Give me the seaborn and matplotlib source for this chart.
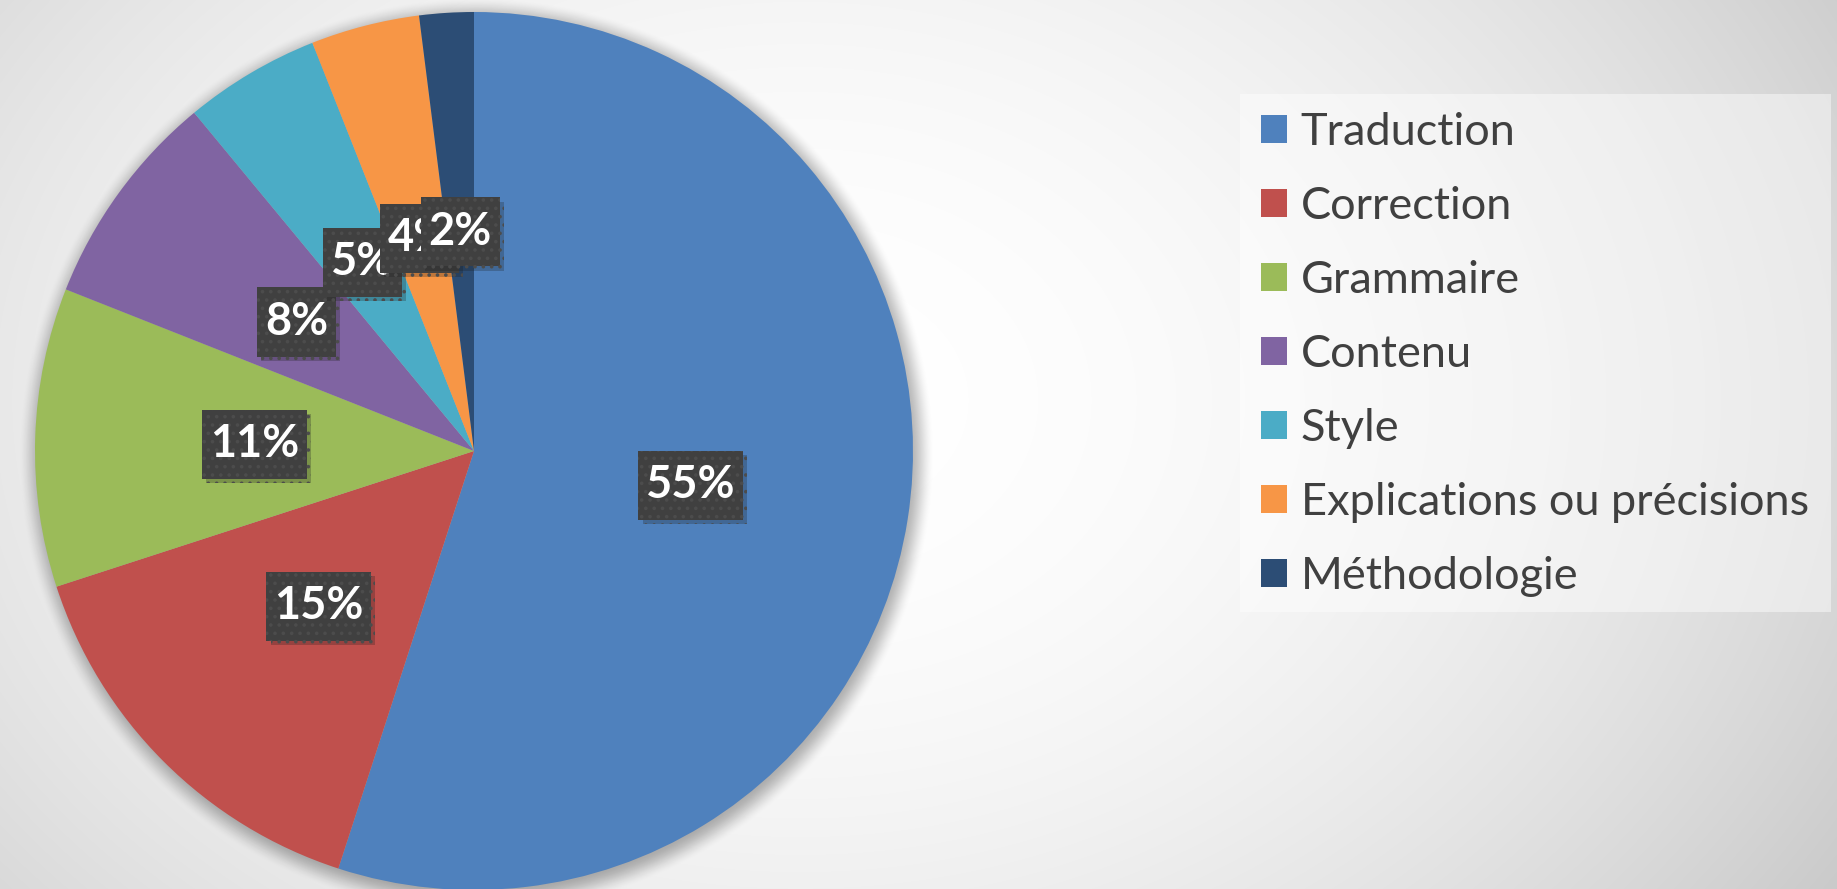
import numpy as np
import matplotlib
matplotlib.use("Agg")
import matplotlib.pyplot as plt
import seaborn as sns
from matplotlib import patheffects as pe
from matplotlib.patches import Rectangle
from matplotlib.path import Path

# -------------------
# Data
categories = ["Traduction", "Correction", "Grammaire", "Contenu", "Style",
              "Explications ou précisions", "Méthodologie"]
shares = [55, 15, 11, 8, 5, 4, 2]
colors = ["#4F81BD", "#C0504D", "#9BBB59", "#8064A2", "#4BACC6",
          "#F79646", "#2C4D75"]

# -------------------
# Style
sns.set_theme(style="white")
plt.rcParams["font.family"] = ["Lato", "DejaVu Sans"]
plt.rcParams["hatch.linewidth"] = 1.4

W, H = 1837, 889
fig = plt.figure(figsize=(W / 100, H / 100), dpi=100)


def label_box(x0, y0, width, height, mutation_size):
    # rectangle with less padding on the sides than on top/bottom
    px, py = 0.17 * mutation_size, 0.3 * mutation_size
    return Path([(x0 - px, y0 - py), (x0 + width + px, y0 - py),
                 (x0 + width + px, y0 + height + py), (x0 - px, y0 + height + py),
                 (x0 - px, y0 - py)], closed=True)


# -------------------
# Background: soft radial grey gradient
bg = fig.add_axes([0, 0, 1, 1], zorder=0)
yy, xx = np.mgrid[0:H, 0:W]
r2 = ((xx - 800) / 1200.0) ** 2 + ((yy - 400) / 900.0) ** 2
shade = np.clip(1 - 0.2 * r2, 0.74, 1)
bg.imshow(np.dstack([shade] * 3), extent=[0, W, H, 0], aspect="auto")
bg.axis("off")

# -------------------
# Pie
cx, cy, rad = 474, 451, 439
lim = 1.1
side = 2 * lim * rad
ax = fig.add_axes([(cx - lim * rad) / W, (H - cy - lim * rad) / H, side / W, side / H], zorder=1)
ax.patch.set_alpha(0)

# soft shadow under the pie
g = np.linspace(-lim, lim, 700)
gx, gy = np.meshgrid(g, g)
rr = np.hypot(gx - 0.006, gy + 0.01)
t = np.clip((1.045 - rr) / 0.06, 0, 1)
alpha = 0.3 * t * t * (3 - 2 * t)
shadow = np.zeros((700, 700, 4))
shadow[..., 3] = alpha
ax.imshow(shadow, extent=[-lim, lim, -lim, lim], origin="lower", zorder=0,
          interpolation="bilinear")

wedges, _, autotexts = ax.pie(
    shares, colors=colors, startangle=90, counterclock=False, radius=1,
    autopct=lambda p: f"{p:.0f}%", pctdistance=0.5, labeldistance=None,
    wedgeprops=dict(linewidth=0),
    textprops=dict(color="white", fontsize=32.5, fontweight="bold"),
)
for i, txt in enumerate(autotexts):
    txt.set_zorder(5 + i)
    txt.set_bbox(dict(boxstyle=label_box, fc="#404040", ec="#4c4c4c",
                      lw=0, hatch=".."))
    txt.get_bbox_patch().set_path_effects(
        [pe.withSimplePatchShadow(offset=(3, -3), shadow_rgbFace="k", alpha=0.25)])

ax.set_xlim(-lim, lim)
ax.set_ylim(-lim, lim)
ax.set_aspect("equal")
ax.axis("off")

# -------------------
# Legend panel
fig.patches.append(Rectangle((1240 / W, 1 - 612 / H), (1831 - 1240) / W, (612 - 94) / H,
                             transform=fig.transFigure, fc="white", alpha=0.45,
                             ec="none", zorder=1))
fig.legend(wedges, categories, loc="upper left",
           bbox_to_anchor=(1261 / W, 1 - 112 / H), bbox_transform=fig.transFigure,
           frameon=False, fontsize=32.5, labelcolor="#404040",
           handlelength=0.58, handleheight=0.58, handletextpad=0.3,
           labelspacing=0.73, borderpad=0, borderaxespad=0)

fig.savefig("out.png", dpi=100)
